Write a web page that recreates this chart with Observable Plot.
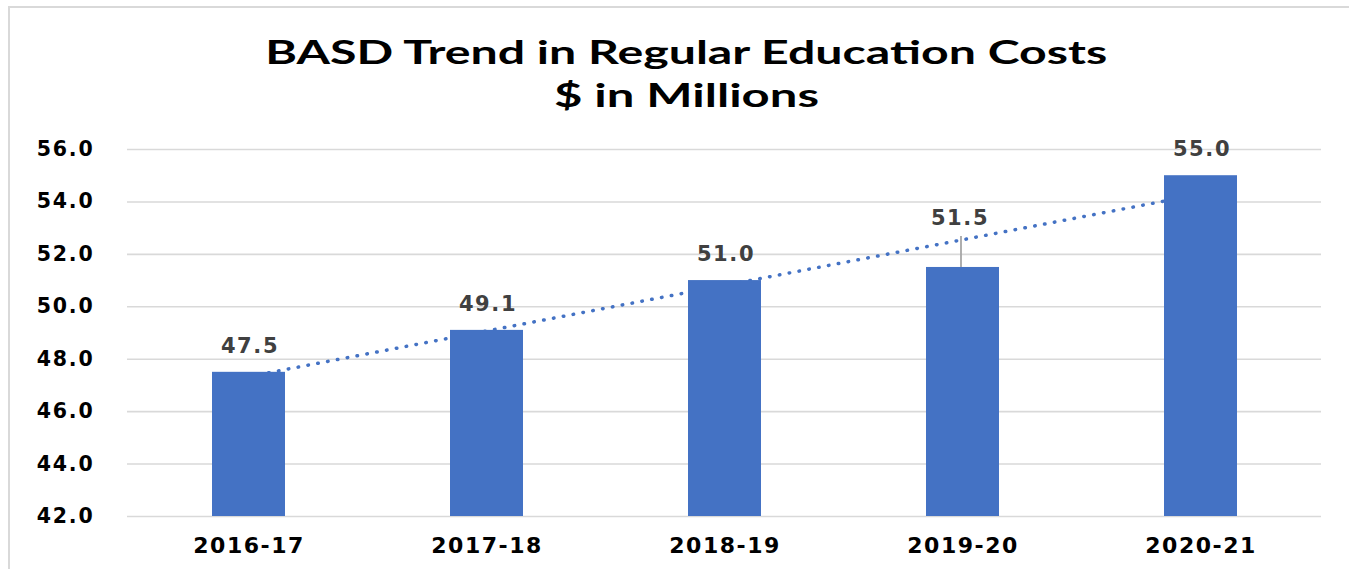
<!DOCTYPE html>
<html><head><meta charset="utf-8">
<script src="https://cdn.jsdelivr.net/npm/d3@7"></script>
<script src="https://cdn.jsdelivr.net/npm/@observablehq/plot@0.6"></script>
<style>
html,body{margin:0;padding:0;background:#fff;width:1349px;height:569px;overflow:hidden;}
#frame{position:absolute;left:8px;top:6px;width:1400px;height:600px;border-top:2px solid #d9d9d9;border-left:2px solid #d9d9d9;box-sizing:border-box;}
#title{position:relative;height:125px;}
.tl{position:absolute;left:0;width:1372px;text-align:center;font-family:Lato,"Open Sans",sans-serif;font-weight:700;font-size:32px;line-height:42px;color:#000;white-space:nowrap;}
.tl span{display:inline-block;transform-origin:50% 50%;}
#chart{position:relative;}
#chart svg{display:block;overflow:visible;}
g[aria-label="y-axis tick label"] text{letter-spacing:1.8px;}
g[aria-label="x-axis tick label"] text{letter-spacing:1.5px;}
g.vlabel text{letter-spacing:1.6px;}
</style></head><body>
<div id="frame"></div>
<div id="title">
  <div class="tl" style="top:31px"><span>BASD Trend in Regular Education Costs</span></div>
  <div class="tl" style="top:74px"><span>$ in Millions</span></div>
</div>
<div id="chart"></div>
<script>
const years = ["2016-17", "2017-18", "2018-19", "2019-20", "2020-21"];
const costs = [47.5, 49.1, 51.0, 51.5, 55.0];
const yTicks = [42, 44, 46, 48, 50, 52, 54, 56];

const data = years.map((year, i) => ({year, cost: costs[i], i}));
// Linear trendline (least squares over category index, as in the spreadsheet chart)
const mx = d3.mean(data, d => d.i), my = d3.mean(costs);
const slope = d3.sum(data, d => (d.i - mx) * (d.cost - my)) / d3.sum(data, d => (d.i - mx) ** 2);
const trend = data.map(d => ({year: d.year, value: my + slope * (d.i - mx)}));

const blue = "#4472C4";
const plain = data.filter(d => d.year !== "2019-20");
const special = data.filter(d => d.year === "2019-20");

const chart = Plot.plot({
  width: 1349, height: 444,
  marginTop: 24, marginBottom: 53, marginLeft: 127, marginRight: 28,
  style: {background: "transparent", fontFamily: "DejaVu Sans", overflow: "visible"},
  x: {domain: years, paddingInner: 0.694, paddingOuter: 0.347, label: null},
  y: {domain: [42, 56], ticks: yTicks, label: null},
  marks: [
    Plot.gridY(yTicks, {stroke: "#d9d9d9", strokeOpacity: 1, strokeWidth: 1.6}),
    Plot.axisY(yTicks, {tickSize: 0, tickPadding: 33, tickFormat: d => d.toFixed(1), fontSize: 20.5, fontWeight: "bold", fill: "#000", label: null}),
    Plot.axisX({tickSize: 0, tickPadding: 21, fontSize: 22, fontWeight: "bold", fill: "#000", label: null}),
    Plot.line(trend, {x: "year", y: "value", stroke: blue, strokeWidth: 3.5, strokeDasharray: "0.5 9.5", strokeLinecap: "round"}),
    Plot.barY(data, {x: "year", y: "cost", fill: blue, clip: true}),
    Plot.ruleX(special, {x: "year", y1: "cost", y2: "cost", insetBottom: 31, dx: -2, stroke: "#a6a6a6", strokeWidth: 1.8}),
    Plot.text(plain, {x: "year", y: "cost", text: d => d.cost.toFixed(1), dy: -26, dx: 1, fontSize: 21, fontWeight: "bold", fill: "#404040", className: "vlabel"}),
    Plot.text(special, {x: "year", y: "cost", text: d => d.cost.toFixed(1), dy: -49, dx: -3, fontSize: 21, fontWeight: "bold", fill: "#404040", className: "vlabel"})
  ]
});
document.getElementById("chart").appendChild(chart);

function fitTitle() {
  const targets = [842, 265];
  document.querySelectorAll(".tl span").forEach((s, k) => {
    s.style.transform = "none";
    const w = s.getBoundingClientRect().width;
    if (w > 0) s.style.transform = `scaleX(${targets[k] / w})`;
  });
}
fitTitle();
if (document.fonts && document.fonts.ready) document.fonts.ready.then(fitTitle);
</script>
</body></html>
